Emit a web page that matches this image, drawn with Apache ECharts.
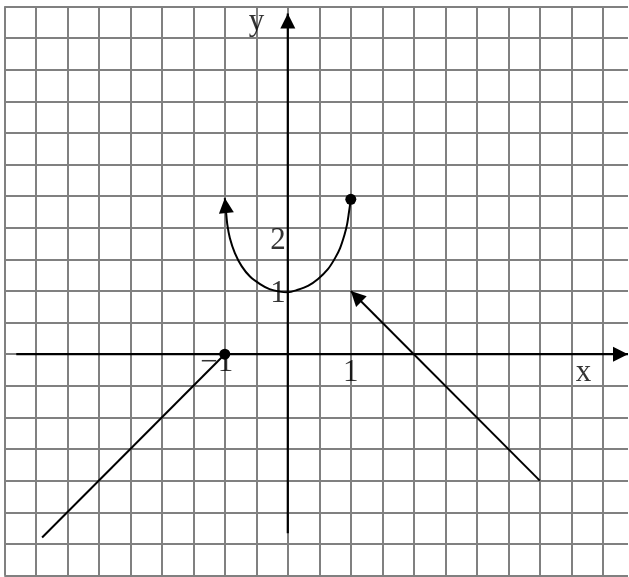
<!DOCTYPE html>
<html><head><meta charset="utf-8">
<script src="https://cdn.jsdelivr.net/npm/echarts@6/dist/echarts.min.js"></script>
<style>html,body{margin:0;padding:0;background:#fff}#c{width:629px;height:577px}</style>
</head><body><div id="c"></div>
<script>
// ---- data ----
const xRange = [-4.5, 5.4];
const yRange = [-3.5, 5.5];
const gridStep = 0.5;
const xAxisExtentX = [-4.31, 5.4];
const xAxisExtentY = [0, 0];
const yAxisExtentX = [0, 0];
const yAxisExtentY = [-2.83, 5.39];
const curveX = [-1, -0.98, -0.96, -0.92, -0.84, -0.73, -0.6, -0.44, -0.29, -0.13, 0, 0.16, 0.32, 0.48, 0.64, 0.75, 0.83, 0.9, 0.94, 0.97, 1];
const curveY = [2.47, 2.25, 2.05, 1.84, 1.6, 1.39, 1.23, 1.11, 1.03, 0.99, 0.98, 1.02, 1.08, 1.19, 1.35, 1.52, 1.68, 1.89, 2.05, 2.24, 2.45];
const leftRayX = [-1, -3.9];
const leftRayY = [0, -2.9];
const rightRayX = [1, 4];
const rightRayY = [1, -2];
const labelText = ['\u22121', '1', 'x', 'y', '2', '1'];
const labelX = [-1, 1, 5, 0, 0, 0];
const labelY = [0, 0, 0, 5.5, 2, 1];

// ---- style ----
const labelOffsets = [[-8, 8.4], [0, 18.4], [-19.3, 18.4], [-31.3, 15.5], [-9.8, 13.5], [-9.8, 2.6]];
const arrowSize = [15, 15];
const dotSize = 11;
const lineStyle = { color: '#000', width: 2 };

function pairs(xs, ys) { return xs.map((x, i) => [x, ys[i]]); }

const xAxisData = pairs(xAxisExtentX, xAxisExtentY).map(v => ({ value: v }));
xAxisData[1].symbol = 'triangle';
xAxisData[1].symbolSize = arrowSize;
xAxisData[1].symbolRotate = -90;
xAxisData[1].symbolOffset = [-7.5, 0];

const yAxisData = pairs(yAxisExtentX, yAxisExtentY).map(v => ({ value: v }));
yAxisData[1].symbol = 'triangle';
yAxisData[1].symbolSize = arrowSize;
yAxisData[1].symbolRotate = 0;
yAxisData[1].symbolOffset = [0, 7.5];

const curveData = pairs(curveX, curveY).map(v => ({ value: v }));
curveData[0].symbol = 'triangle';
curveData[0].symbolSize = arrowSize;
curveData[0].symbolRotate = 6;
curveData[0].symbolOffset = [0.8, 7.45];
curveData[curveData.length - 1].symbol = 'circle';
curveData[curveData.length - 1].symbolSize = dotSize;

const leftData = pairs(leftRayX, leftRayY).map(v => ({ value: v }));
leftData[0].symbol = 'circle';
leftData[0].symbolSize = dotSize;

const rightData = pairs(rightRayX, rightRayY).map(v => ({ value: v }));
rightData[0].symbol = 'triangle';
rightData[0].symbolSize = arrowSize;
rightData[0].symbolRotate = 45;
rightData[0].symbolOffset = [5.3, 5.3];

const labelData = labelText.map((t, i) => ({
  value: [labelX[i], labelY[i]],
  label: { formatter: t, offset: labelOffsets[i] }
}));

function lineSeries(data, smooth) {
  return {
    type: 'line', data: data, smooth: smooth || false,
    symbol: 'none', showSymbol: true, showAllSymbol: true,
    lineStyle: lineStyle, itemStyle: { color: '#000' },
    silent: true, animation: false, clip: false, z: 3
  };
}

const chart = echarts.init(document.getElementById('c'), null, { renderer: 'canvas' });
chart.setOption({
  backgroundColor: '#fff',
  animation: false,
  grid: { left: 4.3, top: 6.5, width: 623.7, height: 569, outerBoundsMode: 'none', containLabel: false },
  xAxis: {
    type: 'value', min: xRange[0], max: xRange[1], interval: gridStep,
    axisLine: { show: false }, axisTick: { show: false }, axisLabel: { show: false },
    splitLine: { show: true, showMinLine: true, showMaxLine: false, lineStyle: { color: '#808080', width: 2 } }
  },
  yAxis: {
    type: 'value', min: yRange[0], max: yRange[1], interval: gridStep,
    axisLine: { show: false }, axisTick: { show: false }, axisLabel: { show: false },
    splitLine: { show: true, showMinLine: true, showMaxLine: true, lineStyle: { color: '#808080', width: 2 } }
  },
  series: [
    Object.assign(lineSeries(xAxisData), { lineStyle: { color: '#000', width: 2.2 } }),
    Object.assign(lineSeries(yAxisData), { lineStyle: { color: '#000', width: 2.2 } }),
    lineSeries(curveData, 0.3),
    lineSeries(leftData),
    lineSeries(rightData),
    {
      type: 'scatter', data: labelData, symbol: 'circle', symbolSize: 1,
      itemStyle: { color: 'rgba(0,0,0,0)' }, silent: true, animation: false, z: 5,
      label: {
        show: true, position: 'inside', align: 'center', verticalAlign: 'middle',
        color: '#000', fontFamily: 'Liberation Serif', fontSize: 31
      }
    }
  ]
});
</script>
</body></html>
